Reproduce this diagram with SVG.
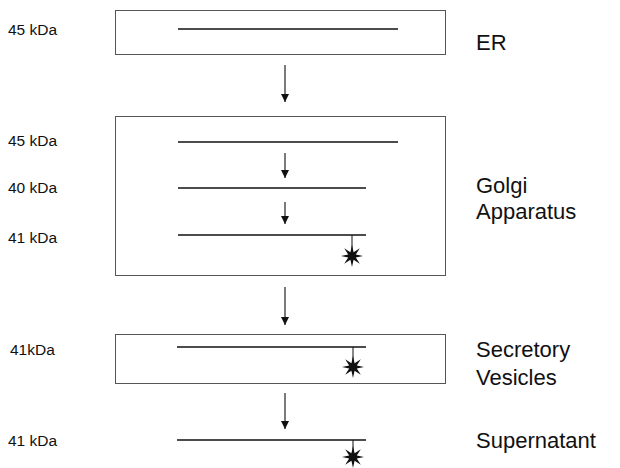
<svg xmlns="http://www.w3.org/2000/svg" width="620" height="468" viewBox="0 0 620 468">
<style>
.box{fill:none;stroke:#555;stroke-width:1}
.band{stroke:#111;stroke-width:1.6}
.stem{stroke:#111;stroke-width:1}
.arr{stroke:#222;stroke-width:1.2;fill:none}
.lab{font-family:"Liberation Sans",Arial,sans-serif;font-size:15.5px;fill:#111}
.big{font-family:"Liberation Sans",Arial,sans-serif;font-size:22px;fill:#111}
.star{fill:#111}
</style>
<defs>
<marker id="ah" markerWidth="8" markerHeight="8" refX="8" refY="4" orient="auto" markerUnits="userSpaceOnUse" viewBox="0 0 8 8">
<path d="M0,0 L8,4 L0,8 Z" fill="#111"/>
</marker>
<polygon id="st" points="0,-11 1.6,-3.8 7.8,-7.8 3.8,-1.6 11,0 3.8,1.6 7.8,7.8 1.6,3.8 0,11 -1.6,3.8 -7.8,7.8 -3.8,1.6 -11,0 -3.8,-1.6 -7.8,-7.8 -1.6,-3.8"/>
</defs>
<g id="er">
<rect class="box" x="115.5" y="10.5" width="330" height="44"/>
<line class="band" x1="178" y1="29" x2="398" y2="29"/>
<text class="lab" x="8" y="35">45 kDa</text>
<text class="big" x="476" y="50">ER</text>
</g>
<g id="golgi">
<rect class="box" x="115.5" y="116.5" width="330" height="159"/>
<line class="band" x1="178" y1="142" x2="398" y2="142"/>
<line class="band" x1="178" y1="188" x2="366" y2="188"/>
<line class="band" x1="178" y1="235" x2="366" y2="235"/>
<line class="stem" x1="352" y1="235" x2="352" y2="250"/>
<use href="#st" class="star" x="352" y="256"/>
<text class="lab" x="8" y="146">45 kDa</text>
<text class="lab" x="8" y="193">40 kDa</text>
<text class="lab" x="8" y="243">41 kDa</text>
<text class="big" x="476" y="193">Golgi</text>
<text class="big" x="476" y="219">Apparatus</text>
</g>
<g id="vesicles">
<rect class="box" x="115.5" y="334.5" width="330" height="49"/>
<line class="band" x1="177" y1="347" x2="366" y2="347"/>
<line class="stem" x1="353" y1="347" x2="353" y2="362"/>
<use href="#st" class="star" x="353" y="367"/>
<text class="lab" x="10" y="355">41kDa</text>
<text class="big" x="476" y="357">Secretory</text>
<text class="big" x="476" y="385">Vesicles</text>
</g>
<g id="supernatant">
<line class="band" x1="177" y1="440" x2="366" y2="440"/>
<line class="stem" x1="353" y1="440" x2="353" y2="452"/>
<use href="#st" class="star" x="353" y="457"/>
<text class="lab" x="8" y="446">41 kDa</text>
<text class="big" x="476" y="448">Supernatant</text>
</g>
<g id="connectors">
<line class="arr" x1="285" y1="65" x2="285" y2="102" marker-end="url(#ah)"/>
<line class="arr" x1="285" y1="153" x2="285" y2="178" marker-end="url(#ah)"/>
<line class="arr" x1="285" y1="202" x2="285" y2="224" marker-end="url(#ah)"/>
<line class="arr" x1="285" y1="287" x2="285" y2="325" marker-end="url(#ah)"/>
<line class="arr" x1="285" y1="393" x2="285" y2="429" marker-end="url(#ah)"/>
</g>
</svg>
